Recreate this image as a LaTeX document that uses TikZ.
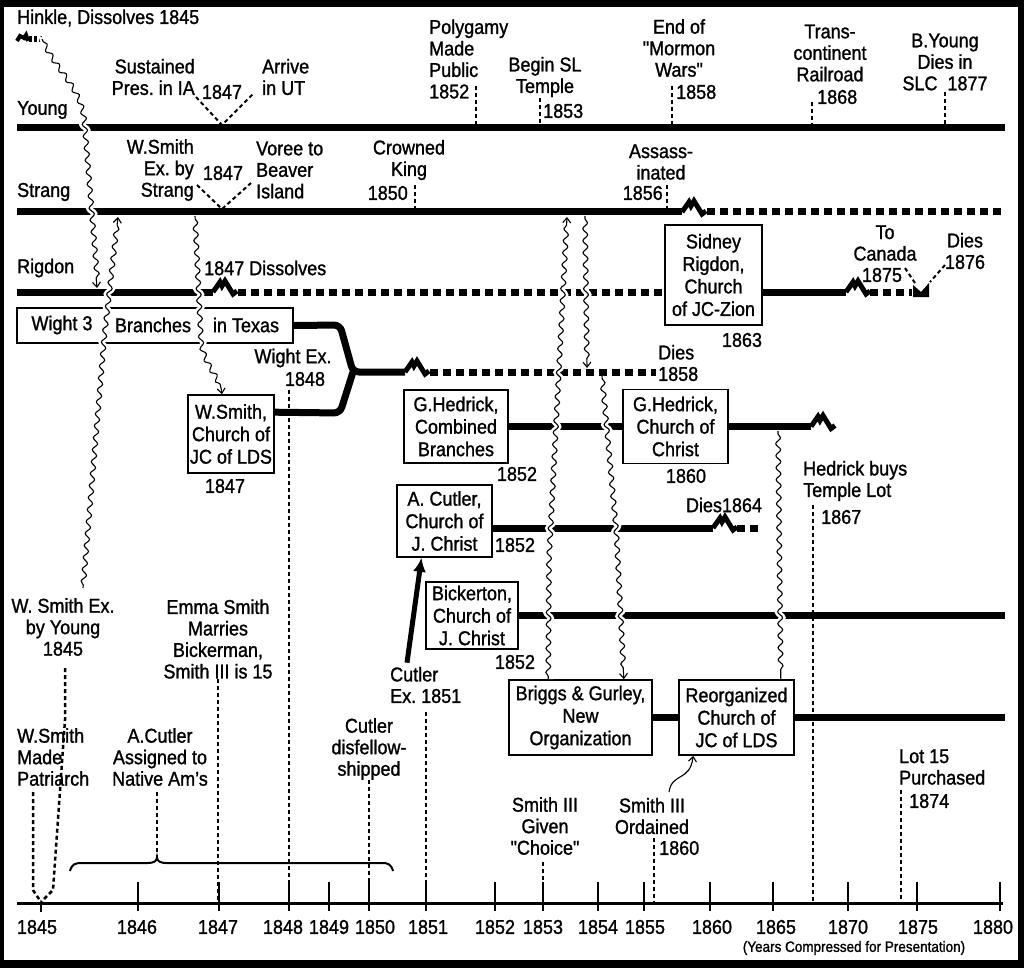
\documentclass[tikz,border=0pt]{standalone}
\usepackage{fontspec}
\setmainfont{Liberation Sans}[FakeStretch=0.9, FakeBold=1.2, Ligatures=TeXOff]
\usepackage{tikz}
\usetikzlibrary{calc, arrows.meta, decorations.pathmorphing}
\frenchspacing
\newcommand{\lf}{\fontsize{20}{21.5}\selectfont}
\newcommand{\bxf}{\fontsize{20}{22.5}\selectfont}
\newcommand{\qt}{\symbol{34}}
\newcommand{\brkat}[1]{\draw[line width=5pt, line join=miter] (#1) -- ++(7,-10) -- ++(2,4) -- ++(3,-5) -- ++(8,13) -- ++(4,-3);}
\tikzstyle{lbl}=[font=\lf, inner sep=0, align=center]
\tikzstyle{box}=[draw, line width=1.6pt, inner sep=0, font=\bxf, align=center, fill=white]
\tikzstyle{life}=[line width=7pt]
\tikzstyle{gone}=[line width=7pt, dash pattern=on 8pt off 5pt]
\tikzstyle{yeardot}=[line width=2.5pt, dash pattern=on 4pt off 3pt]
\tikzstyle{wavy}=[line width=1.1pt, decorate, decoration={snake, amplitude=2.4pt, segment length=12pt, pre length=3pt, post length=6pt}, preaction={draw=white, line width=6pt, -, shorten >=3pt, shorten <=3pt}]
\begin{document}
\begin{tikzpicture}[x=1pt, y=-1pt, >={Straight Barb[length=5pt,width=8pt]}]
\useasboundingbox (0,0) rectangle (1024,968);
\fill[black] (0,0) rectangle (1024,968);
\fill[white] (4,7) rectangle (1018,960);

% row names and lifelines
\node[lbl, anchor=west] (hink) at (17,18) {Hinkle, Dissolves 1845};
\node[lbl, anchor=west] (young) at (17,110) {Young};
\node[lbl, anchor=west] (strang) at (17,192) {Strang};
\node[lbl, anchor=west] (rigdon) at (17,268) {Rigdon};
\draw[line width=4pt] (17,41) -- (20,36) -- (24,38) -- (26,35) -- (28,41);
\draw[line width=6pt, dash pattern=on 3pt off 2pt] (29,39) -- (42,39) coordinate (hk);

\draw[life] (17,128) coordinate (yl) -- (1005,128) coordinate (yr);
\draw[life] (17,212) coordinate (sl) -- (682,212) coordinate (sb);
\brkat{682,212}
\draw[gone] (707,212) -- (1005,212);

\node[box, minimum width=97, minimum height=100] (sid) at (713.5,275) {Sidney\\Rigdon,\\Church\\of JC-Zion};
\node[lbl] (sid63) at (742,340) {1863};
\draw[life] (17,292) coordinate (rl) -- (213,292);
\brkat{213,292}
\coordinate (rb) at (238,292);
\draw[gone] (rb) -- (rb -| sid.west);
\draw[life] (rb -| sid.east) -- (846,292);
\brkat{846,292}
\draw[gone] (870,292) -- (912,292);
\fill (913,285) -- (921,292) -- (929,283) -- (929,297) -- (913,297) -- cycle;

% top events
\node[lbl, align=right, anchor=east] (sust) at (195,77) {Sustained\\Pres. in IA};
\node[lbl] (y47) at (222,92) {1847};
\node[lbl, align=left, anchor=west] (arr) at (262,77) {Arrive\\in UT};
\draw[yeardot, line width=2pt] (196,97) -- (222,125) -- (254,93);
\node[lbl, align=left, anchor=west] (poly) at (429,59) {Polygamy\\Made\\Public\\1852};
\draw[yeardot] (476,86) -- (476,125);
\node[lbl] (tem) at (545,77) {Begin SL\\Temple};
\node[lbl, anchor=west] (t53) at (543,111) {1853};
\draw[yeardot] (540,98) -- (540,125);
\node[lbl] (mw) at (679,48) {End of\\\qt Mormon\\Wars\qt};
\node[lbl, anchor=west] (m58) at (676,92) {1858};
\draw[yeardot] (672,86) -- (672,125);
\node[lbl] (rr) at (830,53) {Trans-\\continent\\Railroad};
\node[lbl, anchor=west] (r68) at (817,97) {1868};
\draw[yeardot] (812,102) -- (812,125);
\node[lbl] (byd) at (945,62) {B.Young\\Dies in\\SLC\hspace{10pt}1877};
\draw[yeardot] (945,92) -- (945,125);

\node[lbl, align=right, anchor=east] (wss) at (194,170) {W.Smith\\Ex. by\\Strang};
\node[lbl] (s47) at (223,173) {1847};
\node[lbl, align=left, anchor=west] (vor) at (256,170) {Voree to\\Beaver\\Island};
\draw[yeardot, line width=2pt] (197,185) -- (222,209) -- (251,183);
\node[lbl] (crk) at (409,160) {Crowned\\King};
\node[lbl, anchor=east] (k50) at (408,193) {1850};
\draw[yeardot] (415,185) -- (415,209);
\node[lbl] (ass) at (661,162) {Assass-\\inated};
\node[lbl, anchor=east] (a56) at (663,193) {1856};
\draw[yeardot] (667,185) -- (667,209);

\node[lbl, anchor=west] (rdis) at (204,268) {1847 Dissolves};
\node[lbl] (can) at (885,243) {To\\Canada};
\node[lbl] (c75) at (882,275) {1875};
\node[lbl] (d76) at (965,251) {Dies\\1876};
\draw[yeardot, line width=2pt] (905,268) -- (915,283);
\draw[yeardot, line width=2pt] (945,265) -- (930,282);

% Wight and W. Smith
\node[box, minimum width=276, minimum height=35] (wight) at (155,325.5) {};
\node[lbl] (wa) at (62,325) {Wight 3};
\node[lbl] (wb) at (153,325) {Branches};
\node[lbl] (wc) at (246,325) {in Texas};
\node[box, minimum width=86, minimum height=78] (wsm) at (231,434) {W.Smith,\\Church of\\JC of LDS};
\node[lbl] (ws47) at (225,486) {1847};
\coordinate (wj) at (353,372);
\draw[life, rounded corners=6] (wight.east) -- (340,325) -- (wj) -- (405,372);
\draw[life, rounded corners=6] ($(wsm.north east)+(0,18)$) -- (340,413) -- (wj);
\brkat{405,372}
\draw[gone] (430,372) -- (656,372);
\node[lbl, align=left, anchor=west] (dies58) at (658,363) {Dies\\1858};
\node[lbl] (wex) at (293,358) {Wight Ex.};
\node[lbl] (w48) at (305,379) {1848};

% Hedrick, Cutler, Bickerton
\node[box, minimum width=104, minimum height=73] (heda) at (456,426.5) {G.Hedrick,\\Combined\\Branches};
\node[box, minimum width=105, minimum height=74] (hedb) at (675.5,426.5) {G.Hedrick,\\Church of\\Christ};
\draw[life] (heda.east) -- (hedb.west);
\draw[life] (hedb.east) -- (811,426.5);
\brkat{811,426.5}
\node[lbl] (h52) at (517,474) {1852};
\node[lbl] (h60) at (686,476) {1860};

\node[box, minimum width=95, minimum height=72] (cut) at (444.5,521) {A. Cutler,\\Church of\\J. Christ};
\draw[life] ($(cut.east)+(0,7)$) -- (713,528);
\brkat{713,528}
\draw[gone] (737,528) -- (758,528);
\node[lbl] (c52) at (515,545) {1852};
\node[lbl] (cdies) at (724,505) {Dies1864};

\node[box, minimum width=92, minimum height=67] (bick) at (472,615.5) {Bickerton,\\Church of\\J. Christ};
\draw[life] (bick.east) -- (1005,615.5);
\node[lbl] (b52) at (515,662) {1852};

\node[box, minimum width=143, minimum height=75] (brig) at (580.5,717.5) {Briggs \& Gurley,\\New\\Organization};
\node[box, minimum width=115, minimum height=75] (reo) at (736.5,717.5) {Reorganized\\Church of\\JC of LDS};
\draw[life] (brig) -- (reo);
\draw[life] (reo.east) -- (1005,717.5);

\node[lbl, align=left, anchor=west] (cutex) at (390,685) {Cutler\\Ex. 1851};
\draw[line width=5pt, -{Latex[length=14pt,width=13pt]}] ($(cutex.north west)+(17,-4)$) -- ($(cut.south)+(-23,0)$);

% wavy moves
\draw[wavy, ->] (hk) .. controls (55,68) and (80,85) .. (83,118) -- (97,288);
\draw[wavy, ->] (83,588) -- (104,340) -- (118,217);
\draw[wavy, ->] (195,216) -- (201,340) .. controls (205,365) and (220,372) .. ($(wsm.north)+(-9,0)$);
\draw[wavy, ->] ($(brig.north west)+(40,0)$) -- (549,560) -- (567,217);
\draw[wavy, ->] (585,216) -- (587,368);
\draw[wavy, ->] (602,376) -- (616,528) -- ($(brig.north east)+(-29,0)$);
\draw[wavy] (778,431) -- ($(reo.north east)+(-14,0)$);
\draw[line width=1.1pt, ->] (669,792) .. controls (672,772) and (690,782) .. ($(reo.south west)+(15,0)$);

% bottom events
\coordinate (ax) at (0,903);
\node[lbl] (wsy) at (63,627) {W. Smith Ex.\\by Young\\1845};
\node[lbl, align=left, anchor=west] (wsp) at (17,757) {W.Smith\\Made\\Patriarch};
\node[lbl] (acu) at (160,757) {A.Cutler\\Assigned to\\Native Am’s};
\node[lbl] (emma) at (218,639) {Emma Smith\\Marries\\Bickerman,\\Smith III is 15};
\node[lbl] (cdis) at (369,749) {Cutler\\disfellow-\\shipped};
\node[lbl] (choice) at (545,826) {Smith III\\Given\\\qt Choice\qt};
\node[lbl] (ord) at (652,816) {Smith III\\Ordained};
\node[lbl, anchor=west] (o60) at (659,848) {1860};
\node[lbl, align=left, anchor=west] (hbuy) at (803,481) {Hedrick buys\\Temple Lot};
\node[lbl, anchor=west] (h67) at (821,517) {1867};
\node[lbl, align=left, anchor=west] (lot) at (899,767) {Lot 15\\Purchased};
\node[lbl, anchor=west] (l74) at (909,801) {1874};

\draw[yeardot] (65,668) -- (65,720) -- (53,890) -- (41,902);
\draw[yeardot] (33,792) -- (33,890) -- (41,902);
\draw[yeardot] (157,792) -- (157,856);
\draw[yeardot] (emma.south) -- (emma.south |- ax);
\draw[yeardot] (289,390) -- (289,903);
\draw[yeardot] (cdis.south) -- (cdis.south |- ax);
\draw[yeardot] (426,712) -- (426,903);
\draw[yeardot] (543,862) -- (543,903);
\draw[yeardot] (654,838) -- (654,903);
\draw[yeardot] (813,505) -- (813,903);
\draw[yeardot] (901,790) -- (901,903);
\draw[line width=2pt] (70,871) .. controls (72,864) and (75,863) .. (82,863) -- (148,863) .. controls (154,863) and (157,861) .. (157,857) .. controls (157,861) and (160,863) .. (166,863) -- (382,863) .. controls (388,863) and (391,864) .. (393,871);

% axis
\draw[line width=3pt] (17,903) -- (1003,903);
\draw[line width=2.5pt] (41,903) -- (41,912);
\foreach \x/\lx/\yr in {41/37/1845, 138/137/1846, 219/218/1847, 289/283/1848, 329/329/1849, 369/375/1850, 426/428/1851, 495/495/1852, 543/543/1853, 598/598/1854, 644/645/1855, 710/712/1860, 773/776/1865, 848/848/1870, 917/918/1875, 1000/993/1880} {
  \ifnum\yr>1845 \draw[line width=2.5pt] (\x,882) -- (\x,911); \fi
  \node[lbl] (t\yr) at (\lx,927) {\yr};
}
\node[font=\fontsize{15}{16}\selectfont, inner sep=0] (note) at (854,948) {(Years Compressed for Presentation)};
\end{tikzpicture}
\end{document}
